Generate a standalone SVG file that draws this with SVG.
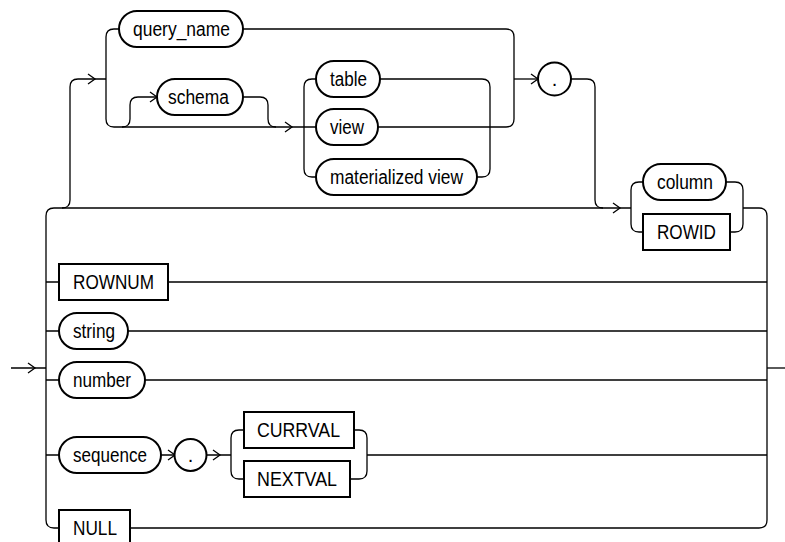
<svg xmlns="http://www.w3.org/2000/svg" width="785" height="542" viewBox="0 0 785 542">
<style>
.ln{fill:none;stroke:#000;stroke-width:1.3}
.nd{fill:#fff;stroke:#000;stroke-width:2}
.ar{fill:none;stroke:#000;stroke-width:1.3}
text{font-family:"Liberation Sans",Arial,sans-serif;font-size:20px;fill:#000}
</style>
<defs>
<path id="ah" class="ar" d="M-7,-5 L0,0 L-7,5"/>
</defs>
<rect width="785" height="542" fill="#fff"/>
<g id="connectors">
<path class="ln" d="M11,368 H46"/>
<path class="ln" d="M54,208 Q46,208 46,216 V520 Q46,528 54,528 H59"/>
<path class="ln" d="M46,282 H59 M46,331 H59 M46,380 H59 M46,455 H59"/>
<path class="ln" d="M54,208 H631"/>
<path class="ln" d="M62,208 Q70,208 70,200 V87 Q70,79 78,79 H106"/>
<path class="ln" d="M119,29 H114 Q106,29 106,37 V119 Q106,127 114,127 H316"/>
<path class="ln" d="M122,127 Q130,127 130,119 V105 Q130,97 138,97 H157"/>
<path class="ln" d="M243,97 H260 Q268,97 268,105 V119 Q268,127 276,127"/>
<path class="ln" d="M243,29 H506 Q514,29 514,37 V119 Q514,127 506,127 H378"/>
<path class="ln" d="M514,79 H538"/>
<path class="ln" d="M316,79 H312 Q304,79 304,87 V169 Q304,177 312,177 H316"/>
<path class="ln" d="M380,79 H482 Q490,79 490,87 V169 Q490,177 482,177 H477"/>
<path class="ln" d="M571,79 H587 Q595,79 595,87 V200 Q595,208 603,208"/>
<path class="ln" d="M643,182 H639 Q631,182 631,190 V224 Q631,232 639,232 H643"/>
<path class="ln" d="M726,182 H735 Q743,182 743,190 V224 Q743,232 735,232 H730"/>
<path class="ln" d="M743,208 H759 Q767,208 767,216 V520 Q767,528 759,528 H130"/>
<path class="ln" d="M168,282 H767 M128,331 H767 M145,380 H767 M367,455 H767"/>
<path class="ln" d="M767,368 H785"/>
<path class="ln" d="M161,455 H175 M206,455 H231"/>
<path class="ln" d="M244,430 H239 Q231,430 231,438 V471 Q231,479 239,479 H244"/>
<path class="ln" d="M354,430 H359 Q367,430 367,438 V471 Q367,479 359,479 H350"/>
<use href="#ah" x="35" y="368"/>
<use href="#ah" x="95" y="79"/>
<use href="#ah" x="157" y="97"/>
<use href="#ah" x="292" y="127"/>
<use href="#ah" x="538" y="79"/>
<use href="#ah" x="620" y="208"/>
<use href="#ah" x="175" y="455"/>
<use href="#ah" x="220" y="455"/>
</g>
<g id="query_name"><rect class="nd" x="119" y="11" width="124" height="36" rx="18"/><text x="133" y="35.5" textLength="97" lengthAdjust="spacingAndGlyphs">query_name</text></g>
<g id="schema"><rect class="nd" x="157" y="79" width="86" height="36" rx="18"/><text x="168" y="103.5" textLength="61" lengthAdjust="spacingAndGlyphs">schema</text></g>
<g id="table"><rect class="nd" x="316" y="61" width="64" height="36" rx="18"/><text x="330" y="85.5" textLength="37" lengthAdjust="spacingAndGlyphs">table</text></g>
<g id="view"><rect class="nd" x="316" y="109" width="62" height="36" rx="18"/><text x="330" y="133.5" textLength="34" lengthAdjust="spacingAndGlyphs">view</text></g>
<g id="materialized_view"><rect class="nd" x="316" y="159" width="161" height="36" rx="18"/><text x="330" y="183.5" textLength="133" lengthAdjust="spacingAndGlyphs">materialized view</text></g>
<g id="dot1"><circle class="nd" cx="554.5" cy="79" r="16.5"/><text x="554.5" y="85.5" text-anchor="middle">.</text></g>
<g id="column"><rect class="nd" x="643" y="164" width="83" height="36" rx="18"/><text x="657" y="188.5" textLength="56" lengthAdjust="spacingAndGlyphs">column</text></g>
<g id="ROWID"><rect class="nd" x="643" y="214" width="87" height="36"/><text x="657" y="238.5" textLength="59" lengthAdjust="spacingAndGlyphs">ROWID</text></g>
<g id="ROWNUM"><rect class="nd" x="59" y="264" width="109" height="36"/><text x="73" y="288.5" textLength="81" lengthAdjust="spacingAndGlyphs">ROWNUM</text></g>
<g id="string"><rect class="nd" x="59" y="313" width="69" height="36" rx="18"/><text x="73" y="337.5" textLength="42" lengthAdjust="spacingAndGlyphs">string</text></g>
<g id="number"><rect class="nd" x="59" y="362" width="86" height="36" rx="18"/><text x="73" y="386.5" textLength="58" lengthAdjust="spacingAndGlyphs">number</text></g>
<g id="sequence"><rect class="nd" x="59" y="437" width="102" height="36" rx="18"/><text x="73" y="461.5" textLength="74" lengthAdjust="spacingAndGlyphs">sequence</text></g>
<g id="dot2"><circle class="nd" cx="190.5" cy="455" r="16"/><text x="190.5" y="461.5" text-anchor="middle">.</text></g>
<g id="CURRVAL"><rect class="nd" x="244" y="412" width="110" height="36"/><text x="257" y="436.5" textLength="83" lengthAdjust="spacingAndGlyphs">CURRVAL</text></g>
<g id="NEXTVAL"><rect class="nd" x="244" y="461" width="106" height="36"/><text x="257" y="485.5" textLength="80" lengthAdjust="spacingAndGlyphs">NEXTVAL</text></g>
<g id="NULL"><rect class="nd" x="59" y="510" width="71" height="36"/><text x="73" y="534.5" textLength="44" lengthAdjust="spacingAndGlyphs">NULL</text></g>
</svg>
